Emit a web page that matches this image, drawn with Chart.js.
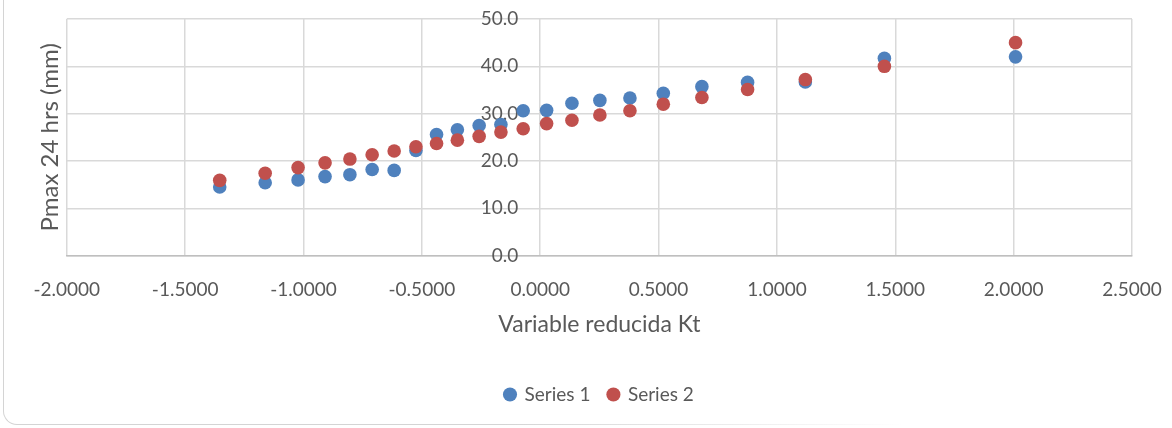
<!DOCTYPE html>
<html>
<head>
<meta charset="utf-8">
<script src="https://cdn.jsdelivr.net/npm/chart.js@4"></script>
<style>
  html, body { margin: 0; padding: 0; background: #fff; }
  #wrap { position: relative; width: 1172px; height: 428px; overflow: hidden; }
  #card {
    position: absolute; left: 3px; top: -20px; width: 1300px; height: 444px;
    border-left: 1.5px solid #d4d4d4; border-bottom: 1.5px solid #d4d4d4;
    border-bottom-left-radius: 14px;
  }
  #fade {
    position: absolute; left: 500px; top: 0; width: 672px; height: 428px;
    background: linear-gradient(to right, rgba(255,255,255,0) 0%, #fff 60%);
  }
  canvas { position: absolute; left: 0; top: 0; }
</style>
</head>
<body>
<div id="wrap">
  <div id="card"></div>
  <div id="fade"></div>
  <canvas id="scatterChart" width="1172" height="428"></canvas>
</div>
<script>
// reduced variable Kt (x) and Pmax 24 hrs (y)
const kt = [-1.354, -1.162, -1.023, -0.909, -0.804, -0.710, -0.617, -0.525, -0.438, -0.350, -0.258, -0.166,
  -0.072, 0.027, 0.134, 0.252, 0.379, 0.520, 0.683, 0.876, 1.120, 1.454, 2.008];
const series1 = [14.5, 15.4, 16.0, 16.7, 17.1, 18.2, 18.0, 22.2, 25.6, 26.6, 27.5, 27.7,
  30.6, 30.7, 32.2, 32.8, 33.3, 34.3, 35.7, 36.6, 36.7, 41.7, 42.0];
const series2 = [15.9, 17.4, 18.6, 19.6, 20.4, 21.3, 22.1, 23.0, 23.7, 24.4, 25.2, 26.1,
  26.8, 27.9, 28.6, 29.7, 30.6, 32.0, 33.4, 35.1, 37.2, 40.0, 45.0];
const seriesNames = ['Series 1', 'Series 2'];

const toPoints = ys => ys.map((y, i) => ({x: kt[i], y: y}));
const textColor = '#595959';
const gridColor = '#d9d9d9';
const font = {family: 'Lato', size: 19};

var ctx = document.getElementById('scatterChart').getContext('2d');
var scatterChart = new Chart(ctx, {
  type: 'scatter',
  data: {
    datasets: [{
      label: seriesNames[0],
      data: toPoints(series1),
      backgroundColor: '#4F81BD',
      borderWidth: 0,
      pointRadius: 6.8,
      pointHoverRadius: 6.8,
      order: 1
    }, {
      label: seriesNames[1],
      data: toPoints(series2),
      backgroundColor: '#C0504D',
      borderWidth: 0,
      pointRadius: 6.8,
      pointHoverRadius: 6.8,
      order: 0
    }]
  },
  options: {
    responsive: false,
    animation: false,
    devicePixelRatio: 1,
    layout: {padding: {left: 36, right: 40, top: 19, bottom: 14}},
    plugins: {
      tooltip: {enabled: false},
      legend: {
        position: 'bottom',
        fullSize: false,
        labels: {
          usePointStyle: true,
          pointStyle: 'circle',
          boxWidth: 10,
          boxHeight: 10,
          padding: 18,
          color: textColor,
          font: font,
          sort: (a, b) => a.datasetIndex - b.datasetIndex
        }
      }
    },
    scales: {
      x: {
        type: 'linear',
        position: 'bottom',
        min: -2,
        max: 2.5,
        ticks: {
          stepSize: 0.5,
          color: textColor,
          font: font,
          padding: 3,
          callback: v => v.toFixed(4)
        },
        // invisible tick marks push the labels down without widening the side padding
        grid: {color: gridColor, lineWidth: 1.5, drawTicks: true, tickLength: 20, tickColor: 'rgba(0,0,0,0)'},
        border: {color: '#bfbfbf', width: 1.5},
        title: {display: true, text: 'Variable reducida Kt', color: textColor, font: {family: 'Lato', size: 23}, padding: {top: 6, bottom: 29}}
      },
      y: {
        type: 'linear',
        // labels sit just left of the Kt = 0 line
        position: {x: -0.093},
        min: 0,
        max: 50,
        ticks: {
          stepSize: 10,
          color: textColor,
          font: font,
          callback: v => v.toFixed(1)
        },
        grid: {color: gridColor, lineWidth: 1.5, drawTicks: false},
        border: {display: false}
      },
      yTitle: {
        type: 'linear',
        position: 'left',
        min: 0,
        max: 50,
        ticks: {display: false},
        grid: {display: false, drawTicks: false},
        border: {display: false},
        title: {display: true, text: 'Pmax 24 hrs (mm)', color: textColor, font: {family: 'Lato', size: 24}, padding: {top: 0, bottom: 2}}
      }
    }
  }
});
</script>
</body>
</html>
